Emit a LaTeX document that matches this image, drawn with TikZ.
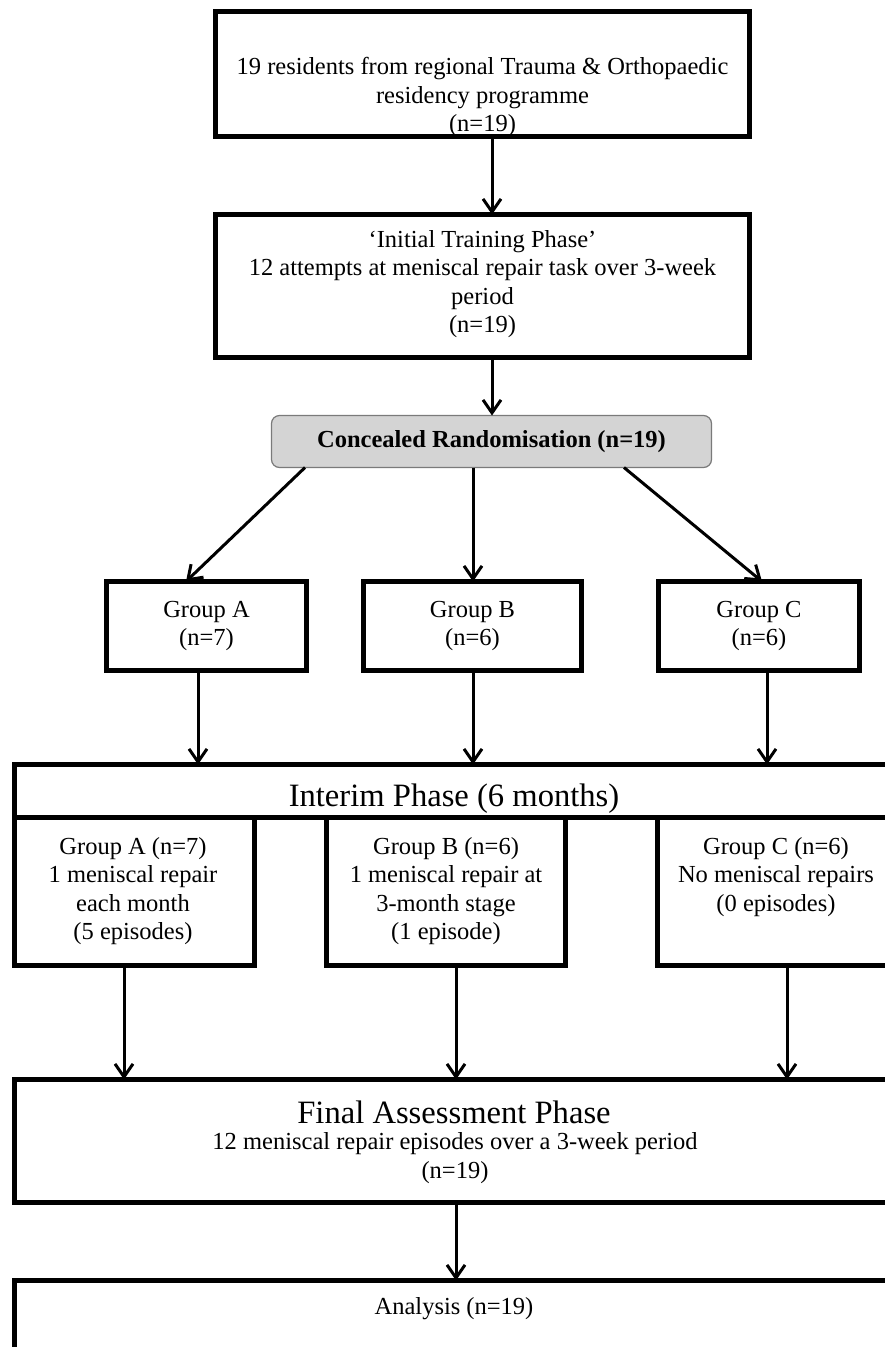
\documentclass[tikz,border=0pt]{standalone}
\usepackage{fontspec}
\setmainfont{Liberation Serif}
\usetikzlibrary{arrows.meta,calc}
\definecolor{randfill}{HTML}{D4D4D4}
\definecolor{randline}{HTML}{7A7A7A}
\begin{document}
\begin{tikzpicture}[x=1pt,y=-1pt,
  box/.style={draw, line width=5.5pt, inner sep=0pt, outer sep=0pt, align=center,
              font=\fontsize{24.5}{28.5}\selectfont},
  txt/.style={align=center, font=\fontsize{24.5}{28.5}\selectfont, inner sep=0pt},
  big/.style={align=center, font=\fontsize{32.6}{38}\selectfont, inner sep=0pt},
  arr/.style={line width=3pt, -{Straight Barb[length=13pt,width=18pt]}},
]
\useasboundingbox (0,0) rectangle (885,1347);
\clip (0,0) rectangle (885,1347);

% boxes
\node[box, minimum width=534pt, minimum height=125pt] (b1) at (482.5,74) {};
\node[txt] (t1) at (482.5,97) {19 residents from regional Trauma \& Orthopaedic\\residency programme\\(n=19)};

\node[box, minimum width=534pt, minimum height=143pt] (b2) at (482.5,286) {};
\node[txt] (t2) at (482.5,284) {‘Initial Training Phase’\\12 attempts at meniscal repair task over 3-week\\period\\(n=19)};

\node[draw=randline, fill=randfill, line width=1.2pt, rounded corners=8pt,
      minimum width=440pt, minimum height=52pt, inner sep=0pt, outer sep=0pt,
      font=\fontsize{24.5}{28.5}\selectfont\bfseries] (rnd) at (491.5,441.5) {Concealed Randomisation (n=19)};

\node[box, minimum width=200pt, minimum height=89pt] (ga) at (206.5,626) {Group A\\(n=7)};
\node[box, minimum width=218pt, minimum height=89pt] (gb) at (472.5,626) {Group B\\(n=6)};
\node[box, minimum width=201pt, minimum height=89pt] (gc) at (759,626) {Group C\\(n=6)};

\node[box, minimum width=880pt, minimum height=53pt] (ih) at (454.5,791) {};
\node[big] (ti) at (454,799) {Interim Phase (6 months)};

\node[box, minimum width=240pt, minimum height=148pt] (sa) at (134.5,891.5) {};
\node[box, minimum width=239pt, minimum height=148pt] (sb) at (446,891.5) {};
\node[box, minimum width=237pt, minimum height=148pt] (sc) at (776,891.5) {};
\node[txt] (tsa) at (133,891) {Group A (n=7)\\1 meniscal repair\\each month\\(5 episodes)};
\node[txt] (tsb) at (446,891) {Group B (n=6)\\1 meniscal repair at\\3-month stage\\(1 episode)};
\node[txt] (tsc) at (776,877) {Group C (n=6)\\No meniscal repairs\\(0 episodes)};

\node[box, minimum width=880pt, minimum height=123pt] (fin) at (454.5,1141) {};
\node[big] (tf1) at (454,1112) {Final Assessment Phase};
\node[txt] (tf2) at (455,1158) {12 meniscal repair episodes over a 3-week period\\(n=19)};

\node[box, minimum width=880pt, minimum height=137pt] (ana) at (454.5,1349) {};
\node[txt] (tan) at (454,1309) {Analysis (n=19)};

% x positions of connectors
\coordinate (xm) at (492,0);
\coordinate (xs1) at (305,0);
\coordinate (xe1) at (186,0);
\coordinate (xb) at (473,0);
\coordinate (xs3) at (624,0);
\coordinate (xe3) at (762,0);
\coordinate (xga) at (198,0);
\coordinate (xgc) at (767,0);
\coordinate (xsa) at (124,0);
\coordinate (xsb) at (456,0);
\coordinate (xsc) at (787,0);

% connectors
\draw[arr] (b1.south -| xm) -- (b2.north -| xm);
\draw[arr] (b2.south -| xm) -- (rnd.north -| xm);
\draw[arr] (rnd.south -| xs1) -- (ga.north -| xe1);
\draw[arr] (rnd.south -| xb) -- (gb.north -| xb);
\draw[arr] (rnd.south -| xs3) -- (gc.north -| xe3);
\draw[arr] (ga.south -| xga) -- (ih.north -| xga);
\draw[arr] (gb.south -| xb) -- (ih.north -| xb);
\draw[arr] (gc.south -| xgc) -- (ih.north -| xgc);
\draw[arr] (sa.south -| xsa) -- (fin.north -| xsa);
\draw[arr] (sb.south -| xsb) -- (fin.north -| xsb);
\draw[arr] (sc.south -| xsc) -- (fin.north -| xsc);
\draw[arr] (fin.south -| xsb) -- (ana.north -| xsb);
\end{tikzpicture}
\end{document}
